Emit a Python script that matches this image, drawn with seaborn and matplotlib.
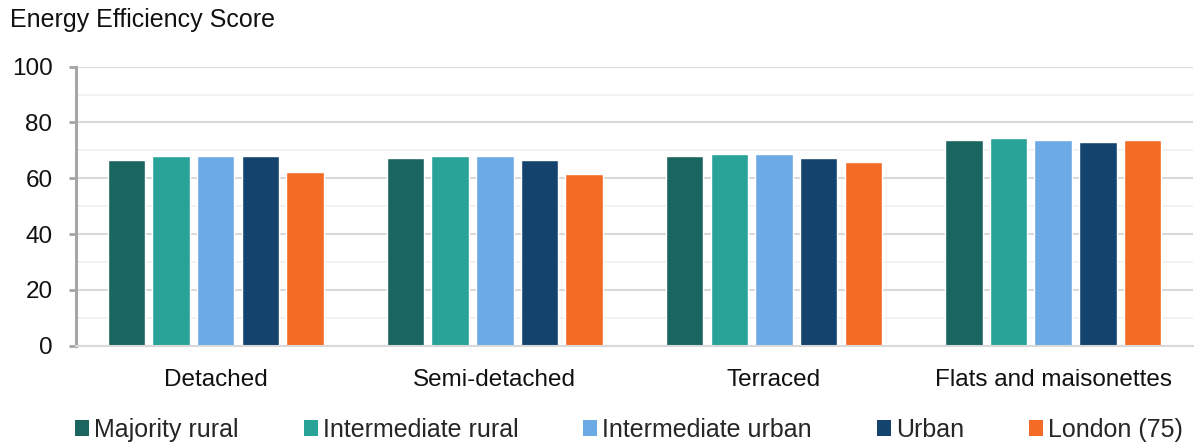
import matplotlib
matplotlib.use("Agg")
import matplotlib.pyplot as plt
import seaborn as sns
import pandas as pd
from matplotlib.patches import Patch
from matplotlib.ticker import MultipleLocator

# Dwelling types on the x axis
dwelling_types = ["Detached", "Semi-detached", "Terraced", "Flats and maisonettes"]

# Settlement classes (legend order)
settlements = ["Majority rural", "Intermediate rural", "Intermediate urban", "Urban", "London (75)"]

# Mean energy efficiency score per dwelling type, one list per settlement class
majority_rural = [66.6, 67.3, 68.0, 73.7]
intermediate_rural = [68.0, 68.0, 68.7, 74.4]
intermediate_urban = [68.0, 68.0, 68.7, 73.7]
urban = [68.0, 66.6, 67.3, 73.0]
london = [62.3, 61.5, 65.8, 73.7]

colors = ["#1a6560", "#29a398", "#6caae5", "#14446e", "#f46b25"]

series = [majority_rural, intermediate_rural, intermediate_urban, urban, london]
rows = []
for name, vals in zip(settlements, series):
    for d, v in zip(dwelling_types, vals):
        rows.append({"type": d, "area": name, "score": v})
df = pd.DataFrame(rows)

sns.set_theme(style="white")
plt.rcParams["font.family"] = ["Liberation Sans", "DejaVu Sans"]

fig = plt.figure(figsize=(11.97, 4.46), dpi=100)
ax = fig.add_axes([0.0635, 0.225, 0.933, 0.6255])

sns.barplot(data=df, x="type", y="score", hue="area", order=dwelling_types,
            hue_order=settlements, palette=colors, width=0.8, gap=0.16,
            saturation=1, ax=ax, legend=False, errorbar=None)

ax.set_ylim(0, 100)
ax.set_xlim(-0.5, 3.5)
ax.yaxis.set_major_locator(MultipleLocator(20))
ax.yaxis.set_minor_locator(MultipleLocator(10))
ax.grid(axis="y", which="major", color="#d9d9d9", linewidth=1.5, zorder=0)
ax.grid(axis="y", which="minor", color="#f0f0f0", linewidth=1.2, zorder=0)
ax.set_axisbelow(True)

for s in ["top", "right"]:
    ax.spines[s].set_visible(False)
ax.spines["bottom"].set_color("#d9d9d9")
ax.spines["bottom"].set_linewidth(1.5)
ax.spines["left"].set_color("#a6a6a6")
ax.spines["left"].set_linewidth(2.2)

ax.tick_params(axis="y", which="major", length=5, width=2.0, color="#a6a6a6",
               labelsize=17.5, pad=12, left=True)
ax.tick_params(axis="y", which="minor", length=0)
ax.tick_params(axis="x", length=0, labelsize=17.5, pad=17)
ax.set_xlabel("")
ax.set_ylabel("")
for lab in ax.get_yticklabels() + ax.get_xticklabels():
    lab.set_color("#111111")

fig.text(0.008, 0.955, "Energy Efficiency Score", fontsize=18, color="#111111",
         ha="left", va="center")

handles = [Patch(facecolor=c, edgecolor="none", label=n) for c, n in zip(colors, settlements)]
fig.legend(handles=handles, loc="center", bbox_to_anchor=(0.5255, 0.036), ncol=5,
           frameon=False, fontsize=18, handlelength=0.56, handleheight=0.56,
           handletextpad=0.2, columnspacing=2.6, borderaxespad=0, borderpad=0)

fig.savefig("out.png", dpi=100)
